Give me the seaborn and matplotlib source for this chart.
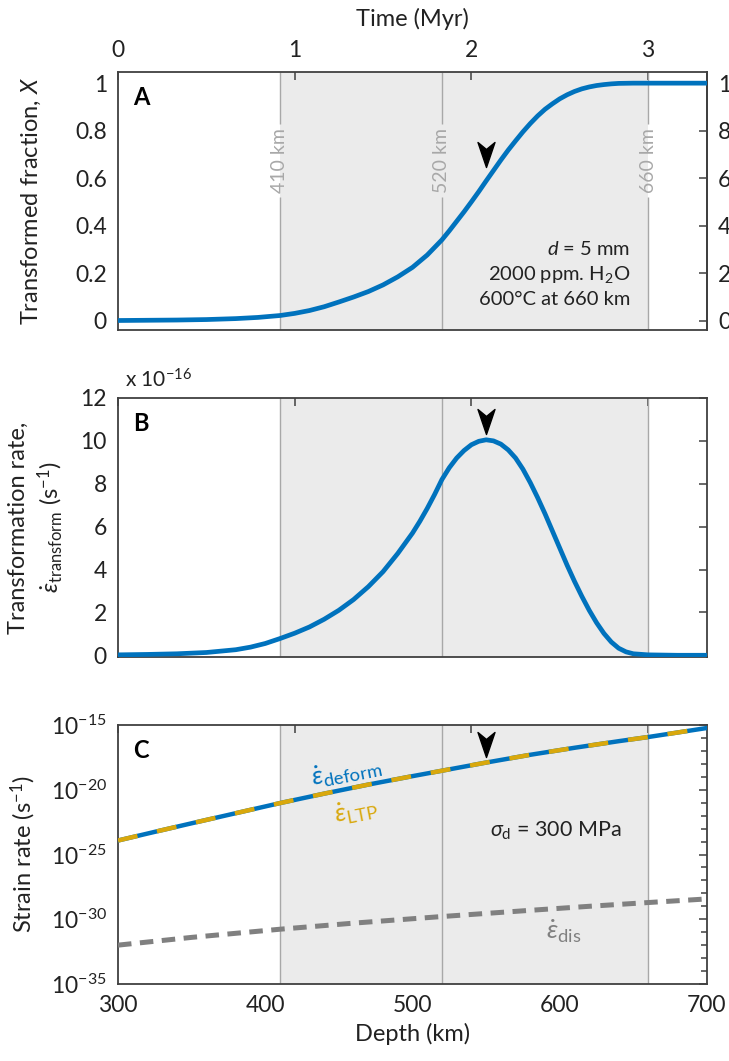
import numpy as np
import matplotlib
matplotlib.use("Agg")
import matplotlib.pyplot as plt
import seaborn as sns
from matplotlib.path import Path
from matplotlib.ticker import FixedLocator, FixedFormatter, NullFormatter

# ---------------- data ----------------
depth_A = [300, 320, 340, 360, 380, 395, 410, 420, 430, 440, 450, 460, 470, 480,
           490, 500, 510, 520, 525, 530, 535, 540, 545, 550, 555, 560, 565, 570,
           575, 580, 585, 590, 595, 600, 605, 610, 615, 620, 625, 630, 635, 640,
           650, 660, 700]
frac_X = [0.000, 0.001, 0.002, 0.004, 0.008, 0.013, 0.021, 0.030, 0.042, 0.058,
          0.078, 0.099, 0.122, 0.150, 0.184, 0.224, 0.276, 0.340, 0.378, 0.418,
          0.458, 0.500, 0.543, 0.588, 0.632, 0.676, 0.718, 0.757, 0.795, 0.830,
          0.862, 0.890, 0.913, 0.934, 0.951, 0.965, 0.976, 0.984, 0.990, 0.994,
          0.997, 0.999, 1.0, 1.0, 1.0]

depth_B = [300, 320, 340, 360, 380, 390, 400, 410, 420, 430, 440, 450, 460, 470,
           480, 490, 500, 505, 510, 515, 520, 525, 530, 535, 540, 545, 550, 555,
           560, 565, 570, 575, 580, 585, 590, 595, 600, 605, 610, 615, 620, 625,
           630, 635, 640, 645, 650, 660, 680, 700]
rate_B = [0.02, 0.04, 0.07, 0.13, 0.26, 0.38, 0.55, 0.78, 1.03, 1.32, 1.68, 2.10,
          2.60, 3.20, 3.90, 4.75, 5.70, 6.25, 6.85, 7.50, 8.20, 8.75, 9.20, 9.55,
          9.82, 9.98, 10.05, 10.00, 9.85, 9.58, 9.20, 8.68, 8.05, 7.35, 6.60, 5.80,
          5.00, 4.20, 3.45, 2.75, 2.10, 1.52, 1.02, 0.62, 0.33, 0.16, 0.07, 0.02,
          0.0, 0.0]  # x 1e-16 s^-1

depth_C = [300, 325, 350, 375, 410, 440, 470, 500, 520, 550, 580, 610, 640, 660,
           680, 700]
log_deform = [-23.92, -23.25, -22.59, -21.94, -21.03, -20.30, -19.60, -18.95,
              -18.53, -17.90, -17.30, -16.76, -16.25, -15.93, -15.58, -15.23]

depth_dis = [300, 350, 410, 460, 520, 580, 620, 660, 700]
log_dis = [-32.0, -31.4, -30.77, -30.30, -29.79, -29.31, -29.0, -28.71, -28.43]

boundaries = [410, 520, 660]
boundary_labels = ["410 km", "520 km", "660 km"]
time_ticks = [0, 1, 2, 3]
depth_ticks = [300, 400, 500, 600, 700]
peak_depth = 550

# ---------------- style ----------------
sns.set_theme(style="white")
plt.rcParams['font.family'] = ['Lato', 'DejaVu Sans']
plt.rcParams['mathtext.fontset'] = 'custom'
plt.rcParams['mathtext.rm'] = 'Lato'
plt.rcParams['mathtext.it'] = 'Lato:italic'
plt.rcParams['mathtext.bf'] = 'Lato:bold'

BLUE = "#0072BD"
GOLD = "#D9A80C"
GRAY_LINE = "#808080"
SHADE = "#EBEBEB"
VLINE = "#A8A8A8"
SPINE = "#404040"
FS_TICK = 16.5
FS_LAB = 17

fig = plt.figure(figsize=(7.29, 10.61), dpi=100)
L, W = 118 / 729, 589 / 729
axA = fig.add_axes([L, (1061 - 330) / 1061, W, 258 / 1061])
axB = fig.add_axes([L, (1061 - 657) / 1061, W, 259 / 1061])
axC = fig.add_axes([L, (1061 - 984) / 1061, W, 259 / 1061])

def d2t(d):
    return (np.asarray(d, dtype=float) - 300.0) / 120.0

def t2d(t):
    return np.asarray(t, dtype=float) * 120.0 + 300.0

arrow = Path([(0, 0), (-0.34, 1.0), (0, 0.72), (0.34, 1.0), (0, 0)],
             [Path.MOVETO, Path.LINETO, Path.LINETO, Path.LINETO, Path.CLOSEPOLY])

def common(ax, label_bottom=False, label_top=False):
    ax.set_xlim(300, 700)
    ax.axvspan(boundaries[0], boundaries[-1], color=SHADE, zorder=0, lw=0)
    for s in ax.spines.values():
        s.set_color(SPINE)
        s.set_linewidth(1.3)
    ax.xaxis.set_major_locator(FixedLocator(depth_ticks))
    ax.xaxis.set_minor_locator(FixedLocator([350, 450, 550, 650]))
    ax.tick_params(axis='both', which='both', direction='in', colors=SPINE,
                   labelcolor='#222222', labelsize=FS_TICK, right=True, top=False,
                   width=1.1)
    ax.tick_params(which='major', length=6, pad=8)
    ax.tick_params(which='minor', length=6)
    if not label_bottom:
        ax.tick_params(axis='x', labelbottom=False)
    sec = ax.secondary_xaxis('top', functions=(d2t, t2d))
    sec.set_xticks(time_ticks)
    sec.tick_params(direction='in', length=6, width=1.1, colors=SPINE,
                    labelcolor='#222222', labelsize=FS_TICK, pad=8)
    sec.spines['top'].set_visible(False)
    if label_top:
        sec.set_xlabel("Time (Myr)", fontsize=FS_LAB, labelpad=10, color='#222222')
    else:
        sec.tick_params(labeltop=False)
    return sec

# ---------------- Panel A ----------------
common(axA, label_top=True)
axA.set_ylim(-0.04, 1.047)
for b, lab in zip(boundaries, boundary_labels):
    axA.vlines(b, -0.04, 0.52, color=VLINE, lw=1.0, zorder=1)
    axA.vlines(b, 0.83, 1.047, color=VLINE, lw=1.0, zorder=1)
    axA.text(b, 0.675, lab, rotation=90, ha='center', va='center',
             color='#A8A8A8', fontsize=14)
sns.lineplot(x=depth_A, y=frac_X, ax=axA, color=BLUE, lw=3.4, zorder=3)
axA.yaxis.set_major_locator(FixedLocator([0, 0.2, 0.4, 0.6, 0.8, 1.0]))
axA.yaxis.set_major_formatter(FixedFormatter(["0", "0.2", "0.4", "0.6", "0.8", "1"]))
axA.set_ylabel("Transformed fraction, $\\it{X}$", fontsize=FS_LAB, color='#222222')
axA.yaxis.set_label_coords(-0.128, 0.5)
secA = axA.secondary_yaxis('right', functions=(lambda v: v * 100, lambda v: v / 100))
secA.set_yticks([0, 20, 40, 60, 80, 100])
secA.tick_params(direction='in', length=0, labelsize=FS_TICK, labelcolor='#222222', pad=8)
axA.text(0.025, 0.9, "A", transform=axA.transAxes, fontsize=17, fontweight='bold',
         ha='left', va='center', color='black')
axA.text(648, 0.30, "$\\it{d}$ = 5 mm", ha='right', va='center', fontsize=14.5, color='#222222')
axA.text(648, 0.195, "2000 ppm. H$_2$O", ha='right', va='center', fontsize=14.5, color='#222222')
axA.text(648, 0.09, "600°C at 660 km", ha='right', va='center', fontsize=14.5, color='#222222')
axA.plot([peak_depth], [0.648], marker=arrow, markersize=36, color='black', zorder=5, lw=0)
axA.set_xlabel("")

# ---------------- Panel B ----------------
common(axB)
axB.set_ylim(-0.08, 12)
for b in boundaries:
    axB.axvline(b, color=VLINE, lw=1.0, zorder=1)
sns.lineplot(x=depth_B, y=rate_B, ax=axB, color=BLUE, lw=3.4, zorder=3)
axB.yaxis.set_major_locator(FixedLocator([0, 2, 4, 6, 8, 10, 12]))
axB.set_ylabel("Transformation rate,\n$\\dot{\\varepsilon}_{\\mathrm{transform}}$ (s$^{-1}$)",
               fontsize=FS_LAB, color='#222222', linespacing=1.3)
axB.yaxis.set_label_coords(-0.09, 0.5)
axB.text(0.012, 1.07, "x 10$^{-16}$", transform=axB.transAxes, fontsize=15,
         ha='left', va='center', color='#222222')
axB.text(0.025, 0.9, "B", transform=axB.transAxes, fontsize=17, fontweight='bold',
         ha='left', va='center', color='black')
axB.plot([peak_depth], [10.3], marker=arrow, markersize=36, color='black', zorder=5, lw=0)
axB.set_xlabel("")

# ---------------- Panel C ----------------
common(axC, label_bottom=True)
axC.set_yscale('log')
axC.set_ylim(1e-35, 1e-15)
for b in boundaries:
    axC.axvline(b, color=VLINE, lw=1.0, zorder=1)
deform_vals = [10.0 ** v for v in log_deform]
dis_vals = [10.0 ** v for v in log_dis]
sns.lineplot(x=depth_C, y=deform_vals, ax=axC, color=BLUE, lw=3.2, zorder=3)
sns.lineplot(x=depth_C, y=deform_vals, ax=axC, color=GOLD, lw=3.2, zorder=4)
axC.lines[-1].set_dashes((4.5, 4.5))
sns.lineplot(x=depth_dis, y=dis_vals, ax=axC, color=GRAY_LINE, lw=3.6, zorder=3)
axC.lines[-1].set_dashes((2.7, 1.7))
majors = [1e-35, 1e-30, 1e-25, 1e-20, 1e-15]
axC.yaxis.set_major_locator(FixedLocator(majors))
axC.yaxis.set_major_formatter(FixedFormatter(["10$^{-35}$", "10$^{-30}$", "10$^{-25}$",
                                              "10$^{-20}$", "10$^{-15}$"]))
axC.yaxis.set_minor_locator(FixedLocator([10.0 ** k for k in range(-35, -14)]))
axC.yaxis.set_minor_formatter(NullFormatter())
axC.tick_params(axis='y', which='minor', length=4)
axC.set_ylabel("Strain rate (s$^{-1}$)", fontsize=FS_LAB, color='#222222')
axC.yaxis.set_label_coords(-0.135, 0.5)
axC.set_xlabel("Depth (km)", fontsize=FS_LAB, color='#222222', labelpad=5)
axC.text(0.025, 0.9, "C", transform=axC.transAxes, fontsize=17, fontweight='bold',
         ha='left', va='center', color='black')
axC.text(455, 10 ** -18.6, "$\\dot{\\varepsilon}_{\\mathrm{deform}}$", color=BLUE,
         fontsize=19, rotation=11, ha='center', va='center')
axC.text(462, 10 ** -21.7, "$\\dot{\\varepsilon}_{\\mathrm{LTP}}$", color=GOLD,
         fontsize=19, rotation=11, ha='center', va='center')
axC.text(597, 10 ** -23.2, "$\\sigma_{\\mathrm{d}}$ = 300 MPa", color='#222222',
         fontsize=15.5, ha='center', va='center')
axC.text(603, 10 ** -30.9, "$\\dot{\\varepsilon}_{\\mathrm{dis}}$", color=GRAY_LINE,
         fontsize=19, ha='center', va='center')
axC.plot([peak_depth], [10 ** -17.5], marker=arrow, markersize=36, color='black', zorder=6, lw=0)

fig.savefig("out.png", dpi=100)
